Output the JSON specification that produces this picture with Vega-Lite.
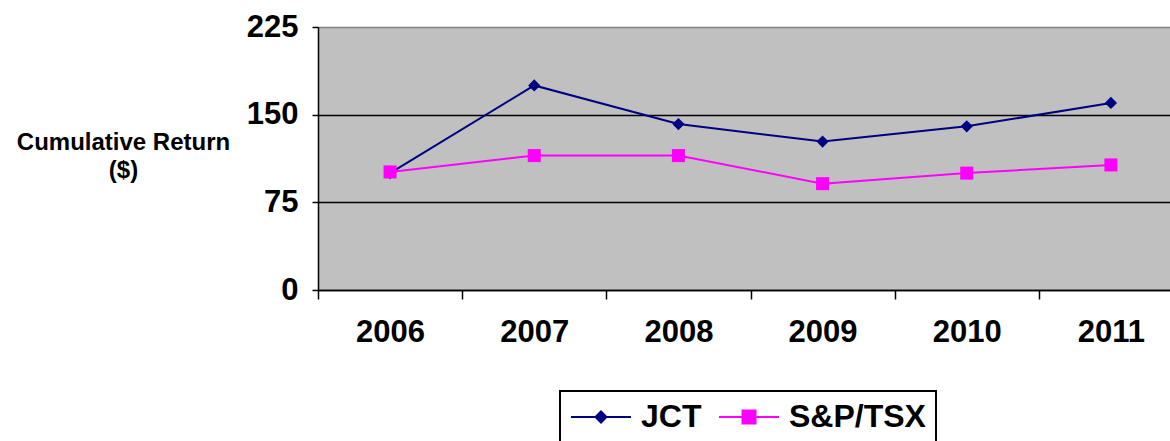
{
  "$schema": "https://vega.github.io/schema/vega-lite/v6.json",
  "width": 852,
  "height": 263,
  "autosize": {"type": "none"},
  "padding": {"left": 318, "top": 27, "right": 0, "bottom": 151},
  "background": "white",
  "config": {"view": {"fill": "#C0C0C0", "stroke": null}, "font": "Liberation Sans"},
  "data": {
    "values": [
      {"year": "2006", "series": "JCT", "value": 100},
      {"year": "2007", "series": "JCT", "value": 175},
      {"year": "2008", "series": "JCT", "value": 142},
      {"year": "2009", "series": "JCT", "value": 127},
      {"year": "2010", "series": "JCT", "value": 140},
      {"year": "2011", "series": "JCT", "value": 160},
      {"year": "2006", "series": "S&P/TSX", "value": 101},
      {"year": "2007", "series": "S&P/TSX", "value": 115},
      {"year": "2008", "series": "S&P/TSX", "value": 115},
      {"year": "2009", "series": "S&P/TSX", "value": 91},
      {"year": "2010", "series": "S&P/TSX", "value": 100},
      {"year": "2011", "series": "S&P/TSX", "value": 107}
    ]
  },
  "encoding": {
    "x": {
      "field": "year",
      "type": "ordinal",
      "scale": {"type": "band", "range": [0, 865], "paddingInner": 0, "paddingOuter": 0},
      "axis": {
        "title": null,
        "tickBand": "extent",
        "grid": false,
        "domainColor": "black",
        "domainWidth": 1.5,
        "tickColor": "black",
        "tickSize": 9,
        "tickWidth": 1.5,
        "labelFontSize": 31,
        "labelFontWeight": "bold",
        "labelColor": "black",
        "labelPadding": 18,
        "labelAngle": 0
      }
    },
    "y": {
      "field": "value",
      "type": "quantitative",
      "scale": {"domain": [0, 225], "nice": false},
      "axis": {
        "values": [0, 75, 150, 225],
        "title": ["Cumulative Return", "($)"],
        "titleAngle": 0,
        "titleAlign": "center",
        "titleBaseline": "top",
        "titleX": -195,
        "titleY": 103,
        "titleFontSize": 24,
        "titleFontWeight": "bold",
        "titleColor": "black",
        "titleLineHeight": 28,
        "labelFontSize": 31,
        "labelFontWeight": "bold",
        "labelColor": "black",
        "labelPadding": 14,
        "tickSize": 6,
        "tickColor": "black",
        "tickWidth": 1.5,
        "domainColor": "black",
        "domainWidth": 1.5,
        "grid": true,
        "gridColor": {"condition": {"test": "datum.value === 225", "value": "#808080"}, "value": "black"},
        "gridWidth": 1.5
      }
    },
    "color": {
      "field": "series",
      "type": "nominal",
      "scale": {"domain": ["JCT", "S&P/TSX"], "range": ["#000080", "#FF00FF"]},
      "legend": {
        "orient": "none",
        "legendX": 242,
        "legendY": 364,
        "direction": "horizontal",
        "title": null,
        "strokeColor": "black",
        "fillColor": "white",
        "padding": 10,
        "symbolSize": 400,
        "symbolOffset": 15,
        "labelOffset": 24,
        "columnPadding": 13,
        "labelFontSize": 32,
        "labelFontWeight": "bold",
        "labelColor": "black",
        "symbolStrokeWidth": 2,
        "encode": {
          "legend": {"update": {"strokeWidth": {"value": 2}}},
          "symbols": {
            "update": {
              "shape": {"signal": "datum.value === 'JCT' ? 'M-3,0H3M0,-0.55L0.55,0L0,0.55L-0.55,0Z' : 'M-3,0H3M-0.65,-0.65H0.65V0.65H-0.65Z'"},
              "fill": {"signal": "scale('color', datum.value)"},
              "stroke": {"signal": "scale('color', datum.value)"},
              "strokeWidth": {"value": 2},
              "opacity": {"value": 1}
            }
          }
        }
      }
    }
  },
  "layer": [
    {"mark": {"type": "line", "strokeWidth": 2}},
    {
      "transform": [{"filter": "datum.series === 'JCT'"}],
      "mark": {"type": "point", "filled": true, "opacity": 1, "size": 150, "shape": "diamond"}
    },
    {
      "transform": [{"filter": "datum.series === 'S&P/TSX'"}],
      "mark": {"type": "point", "filled": true, "opacity": 1, "size": 170, "shape": "square"}
    }
  ]
}
